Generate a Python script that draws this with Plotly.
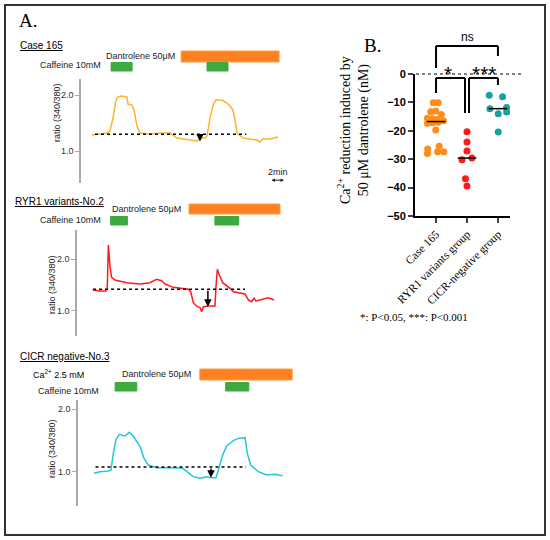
import numpy as np
import plotly.graph_objects as go

W, H = 550, 540

# ---- panel A: fura-2 ratio traces (time in min, ratio 340/380) ----
t_case = [1.57, 3.71, 4.14, 4.57, 5.0, 5.29, 5.86, 6.57, 6.71, 7.29, 7.57, 8.0, 8.43, 9.86,
          11.29, 12.71, 13.71, 14.86, 16.0, 16.57, 17.0, 17.71, 18.0, 18.43, 18.86, 19.29,
          20.14, 20.86, 21.29, 21.71, 22.0, 22.29, 23.14, 24.14, 25.14, 25.57, 26.0, 27.0, 28.14]
r_case = [1.286, 1.321, 1.357, 1.589, 1.911, 1.964, 1.982, 1.964, 1.839, 1.821, 1.732, 1.446,
          1.321, 1.304, 1.321, 1.321, 1.232, 1.214, 1.196, 1.179, 1.232, 1.232, 1.268, 1.589,
          1.821, 1.911, 1.911, 1.857, 1.804, 1.732, 1.554, 1.321, 1.232, 1.214, 1.196, 1.161,
          1.214, 1.214, 1.25]

t_ryr = [2.24, 3.29, 4.14, 4.33, 4.48, 4.71, 4.95, 5.43, 7.1, 9.0, 10.43, 11.38, 12.1, 12.57,
         13.76, 15.9, 16.24, 16.62, 17.19, 17.57, 17.81, 18.05, 18.76, 19.71, 19.86, 20.05,
         20.33, 20.81, 21.86, 22.33, 24.0, 24.48, 24.95, 25.29, 25.57, 26.62, 27.33, 28.14]
r_ryr = [1.404, 1.385, 1.385, 1.467, 2.269, 1.853, 1.647, 1.596, 1.545, 1.519, 1.545, 1.609,
         1.583, 1.519, 1.455, 1.417, 1.371, 1.160, 1.083, 1.071, 0.987, 1.083, 1.096, 1.096,
         1.467, 1.801, 1.692, 1.545, 1.436, 1.371, 1.327, 1.212, 1.179, 1.244, 1.192, 1.225,
         1.256, 1.212]

t_cicr = [2.29, 3.14, 4.33, 4.71, 5.05, 5.43, 5.9, 6.71, 7.33, 7.9, 8.86, 9.43, 10.05, 11.24,
          13.62, 14.95, 15.76, 16.48, 17.43, 18.38, 19.1, 19.71, 20.05, 20.67, 21.24, 22.19,
          22.9, 23.86, 24.19, 24.67, 25.76, 26.95, 28.14, 29.24]
r_cicr = [0.979, 1.005, 1.016, 1.032, 1.296, 1.519, 1.598, 1.571, 1.630, 1.571, 1.402, 1.217,
          1.111, 1.069, 1.069, 1.058, 0.989, 0.926, 0.899, 0.926, 0.910, 0.910, 1.032, 1.270,
          1.413, 1.497, 1.534, 1.545, 1.296, 1.111, 1.005, 0.952, 0.963, 0.941]

# drug application windows (min)
caff_case = [(4.3, 7.3), (18.0, 21.0)]
dant_case = (14.3, 28.3)
caff_ryr = [(4.8, 7.2), (19.7, 23.1)]
dant_ryr = (16.0, 29.0)
caff_cicr = [(5.3, 8.4), (21.1, 24.4)]
dant_cicr = (17.4, 30.6)

# baseline (t0, t1, ratio) and dantrolene-reduced level (t, ratio)
base_case, drop_case = (2.0, 23.6, 1.30), (17.0, 1.17)
base_ryr, drop_ryr = (2.3, 24.0, 1.42), (18.7, 1.08)
base_cicr, drop_cicr = (2.5, 24.0, 1.08), (19.0, 0.91)

# ---- panel B: Ca2+ reduction (nM) ----
groups = ["Case 165", "RYR1 variants group", "CICR-negative group"]
case_vals = [-10.1, -10.1, -13.3, -13.0, -14.3, -15.6, -15.8, -16.0, -16.5, -17.3, -17.2,
             -17.0, -19.7, -25.4, -26.4, -28.0, -27.4, -27.4]
case_jit = [-0.09, 0.07, -0.17, -0.01, 0.17, -0.28, -0.11, 0.04, 0.24, -0.28, -0.11,
            0.07, -0.01, 0.1, -0.27, -0.28, 0.05, 0.25]
ryr_vals = [-20.3, -23.9, -27.1, -30.2, -29.6, -36.9, -39.4]
ryr_jit = [0.0, 0.0, 0.0, -0.16, 0.16, -0.05, 0.0]
cicr_vals = [-7.5, -8.0, -12.2, -11.8, -13.4, -14.0, -20.4]
cicr_jit = [-0.28, 0.15, -0.26, 0.28, 0.28, 0.01, 0.01]


def px(x):
    return x / W


def py(y):
    return 1 - y / H


fig = go.Figure()
shapes = []
annos = []


def label(x, y, s, size, family=None, color="black", xanchor="center", angle=0):
    annos.append(dict(x=px(x), y=py(y), xref="paper", yref="paper", text=s,
                      showarrow=False, xanchor=xanchor, yanchor="middle", textangle=angle,
                      font=dict(size=size, family=family, color=color)))


# trace panels: (xaxis, yaxis, time, ratio, colour, caffeine, dantrolene, base, drop, rows)
panels = [
    ("x", "y", t_case, r_case, "#ffb22c", caff_case, dant_case, base_case, drop_case,
     dict(dan=(51, 62, 56), caf=(62.5, 71, 65), dan_x=177, caf_x=103)),
    ("x2", "y2", t_ryr, r_ryr, "#ff1a1a", caff_ryr, dant_ryr, base_ryr, drop_ryr,
     dict(dan=(204, 214, 209), caf=(216.5, 225, 220), dan_x=183, caf_x=103)),
    ("x3", "y3", t_cicr, r_cicr, "#22c8da", caff_cicr, dant_cicr, base_cicr, drop_cicr,
     dict(dan=(369, 380, 374), caf=(382.5, 391, 391), dan_x=193, caf_x=101)),
]

for xa, ya, t, r, col, caf, dan, base, drop, rows in panels:
    fig.add_trace(go.Scatter(x=t, y=r, xaxis=xa, yaxis=ya, mode="lines",
                             line=dict(color=col, width=1.5), showlegend=False))
    fig.add_trace(go.Scatter(x=[base[0], base[1]], y=[base[2], base[2]], xaxis=xa, yaxis=ya,
                             mode="lines", line=dict(color="black", width=1.5, dash="dot"),
                             showlegend=False))
    annos.append(dict(x=drop[0], y=drop[1], ax=drop[0], ay=base[2], xref=xa, yref=ya,
                      axref=xa, ayref=ya, text="", showarrow=True, arrowhead=2,
                      arrowsize=1, arrowwidth=1.5, arrowcolor="black"))
    d0, d1, _ = rows["dan"]
    shapes.append(dict(type="rect", xref=xa, yref="paper", x0=dan[0], x1=dan[1],
                       y0=py(d1), y1=py(d0), fillcolor="#ff8020",
                       line=dict(color="#ffa040", width=1)))
    c0, c1, _ = rows["caf"]
    for a, b in caf:
        shapes.append(dict(type="rect", xref=xa, yref="paper", x0=a, x1=b,
                           y0=py(c1), y1=py(c0), fillcolor="#3caa3c",
                           line=dict(color="#3caa3c", width=1)))
    label(rows["dan_x"], rows["dan"][2], "Dantrolene 50μM", 9, color="#222", xanchor="right")
    label(rows["caf_x"], rows["caf"][2], "Caffeine 10mM", 9, color="#222", xanchor="right")

# panel B points
for i, (vals, jit, col) in enumerate([(case_vals, case_jit, "#ff8c1a"),
                                      (ryr_vals, ryr_jit, "#ff1a1a"),
                                      (cicr_vals, cicr_jit, "#17a2a8")]):
    fig.add_trace(go.Scatter(x=[i + j for j in jit], y=vals, xaxis="x4", yaxis="y4",
                             mode="markers", marker=dict(color=col, size=7),
                             showlegend=False))
    m = float(np.median(vals))
    fig.add_trace(go.Scatter(x=[i - 0.3, i + 0.3], y=[m, m], xaxis="x4", yaxis="y4",
                             mode="lines", line=dict(color="black", width=1.5),
                             showlegend=False))

# significance brackets (x in category units, y in pixels)
brackets = [(0, 2, 46, 68, 56), (0, 0.935, 78, 93, 113), (1.065, 2, 78, 113, 85)]
for a, b, top, la, lb in brackets:
    for x0, y0, x1, y1 in [(a, top, b, top), (a, top, a, la), (b, top, b, lb)]:
        shapes.append(dict(type="line", xref="x4", yref="paper", x0=x0, x1=x1,
                           y0=py(y0), y1=py(y1), line=dict(color="black", width=2)))

# zero line and frame
shapes.append(dict(type="line", xref="paper", yref="paper", x0=px(416), x1=px(522),
                   y0=py(74), y1=py(74), line=dict(color="black", width=1, dash="dot")))
shapes.append(dict(type="rect", xref="paper", yref="paper", x0=px(5), x1=px(545),
                   y0=py(535), y1=py(5), line=dict(color="#333", width=2)))

# scale bar
annos.append(dict(x=29.0, y=0.48, ax=27.0, ay=0.48, xref="x", yref="y", axref="x", ayref="y",
                  text="", showarrow=True, arrowhead=2, arrowside="end+start",
                  arrowsize=0.7, arrowwidth=1, arrowcolor="#222"))
label(278, 172, "2min", 9, color="#222")

# texts
serif = "Liberation Serif, Times New Roman, serif"
sans = "Liberation Sans, Arial, sans-serif"
label(17, 21, "A.", 19, serif, xanchor="left")
label(362, 45, "B.", 19, serif, xanchor="left")
label(18, 46, "<u>Case 165</u>", 10, sans, xanchor="left")
label(13, 201, "<u>RYR1 variants-No.2</u>", 10, sans, xanchor="left")
label(18, 356, "<u>CICR negative-No.3</u>", 10, sans, xanchor="left")
label(31, 374, "Ca<sup>2+</sup> 2.5 mM", 9, sans, xanchor="left")
label(358, 317, "*: P<0.05, ***: P<0.001", 11, serif, xanchor="left")
label(467, 37, "ns", 12, sans)
label(448, 73, "*", 21, sans)
label(484, 73, "***", 21, sans)

for x, y in [(57, 113), (52, 285), (52, 449)]:
    label(x, y, "ratio (340/380)", 9, sans, color="#222", angle=-90)

label(354, 130, "Ca<sup>2+</sup> reduction induced by<br>50 μM dantrolene (nM)", 14, serif,
      angle=-90)

ratio_axis = dict(showline=True, linecolor="#aaa", linewidth=1.5, ticks="outside",
                  ticklen=4, tickcolor="#aaa", tickvals=[1, 2], ticktext=["1.0", "2.0"],
                  tickfont=dict(size=9, color="#333"), showgrid=False, zeroline=False,
                  automargin=False)
hidden = dict(visible=False, automargin=False)

fig.update_layout(
    width=W, height=H, margin=dict(l=0, r=0, t=0, b=0, pad=0, autoexpand=False),
    paper_bgcolor="white", plot_bgcolor="white",
    font=dict(family=sans),
    xaxis=dict(domain=[px(81), px(298)], range=[0, 31], anchor="y", **hidden),
    yaxis=dict(domain=[py(183), py(79)], range=[0.429, 2.286], anchor="x", **ratio_axis),
    xaxis2=dict(domain=[px(77), px(294)], range=[0, 31], anchor="y2", **hidden),
    yaxis2=dict(domain=[py(336), py(230)], range=[0.519, 2.558], anchor="x2", **ratio_axis),
    xaxis3=dict(domain=[px(78), px(295)], range=[0, 31], anchor="y3", **hidden),
    yaxis3=dict(domain=[py(506), py(400)], range=[0.46, 2.143], anchor="x3", **ratio_axis),
    xaxis4=dict(domain=[px(415), px(510)], range=[-0.68, 2.39], anchor="y4",
                tickvals=[0, 1, 2], ticktext=groups, tickangle=-45, automargin=False,
                tickfont=dict(size=11.5, family=serif, color="black"),
                showline=True, linecolor="black", linewidth=2, ticks="outside",
                ticklen=5, tickwidth=1.5, showgrid=False, zeroline=False),
    yaxis4=dict(domain=[py(216), py(74)], range=[-50, 0], anchor="x4", automargin=False,
                tickvals=[0, -10, -20, -30, -40, -50],
                tickfont=dict(size=11, family="Liberation Sans, Arial", color="black",
                              weight="bold"),
                showline=True, linecolor="black", linewidth=2, ticks="outside",
                ticklen=5, tickwidth=1.5, showgrid=False, zeroline=False),
    shapes=shapes, annotations=annos,
)

# page has a default 8px body margin; drop it so the figure sits at the window corner
fig.write_html("out.html", post_script="document.body.style.margin='0px';",
               config={"displayModeBar": False})
